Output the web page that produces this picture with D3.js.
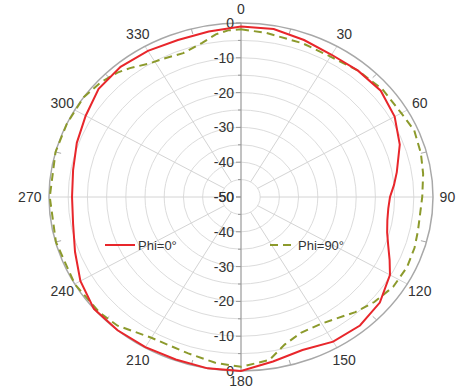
<!DOCTYPE html>
<html>
<head>
<meta charset="utf-8">
<script src="https://cdn.jsdelivr.net/npm/d3@7"></script>
<style>
  body { margin: 0; background: #fff; }
  text { font-family: 'Liberation Sans', Arial, sans-serif; fill: #333; }
</style>
</head>
<body>
<svg width="463" height="390"></svg>
<script>
// Phi=0° cut (angle in degrees, gain in dB)
const phi0Angles = [0, 10, 20, 30, 40, 50, 60, 70, 80, 85, 90, 95, 100, 105, 110, 115, 120, 130, 140, 150, 160, 170, 180,
  190, 200, 210, 220, 230, 240, 250, 260, 270, 280, 290, 300, 310, 320, 330, 340, 350]
const phi0Gain = [-1.0, -1.0, -2.0, -2.8, -2.6, -2.5, -3.8, -6.0, -8.8, -10.0, -11.2, -11.5, -11.3, -10.6, -9.2, -7.3, -5.2, -2.8, -1.8, -2.0, -3.2, -2.0, 0,
  0, -0.3, -0.2, 0, 0, -1.7, -4.0, -5.6, -6.0, -5.6, -4.5, -3.3, -1.6, -1.2, -1.5, -2.0, -1.7]

// Phi=90° cut
const phi90Angles = [0, 8, 20, 30, 40, 50, 60, 67, 75, 82, 90, 102, 108, 115, 123, 131, 138, 150, 158, 165, 171, 180,
  188, 197, 210, 221, 228, 240, 255, 270, 285, 295, 305, 312, 318, 322, 328, 333, 340, 347, 352, 356]
const phi90Gain = [-1.8, -2.4, -3.0, -3.4, -2.6, -1.9, -1.8, -1.0, -1.5, -2.1, -2.8, -2.9, -2.5, -2.3, -2.7, -4.0, -5.5, -8.0, -8.0, -6.1, -2.6, -1.2,
  -1.9, -3.0, -3.3, -1.0, -0.4, 0, -0.1, -0.2, 0, 0, 0, -0.8, -1.9, -3.0, -4.8, -5.4, -6.0, -4.6, -2.8, -2.0]

const radialTicks = [-50, -40, -30, -20, -10, 0]
const angleTicks = [0, 30, 60, 90, 120, 150, 180, 210, 240, 270, 300, 330]

const svg = d3.select('svg')
const cx = 241, cy = 197, rx = 192, ry = 174
const r = d3.scaleLinear().domain([-50, 0]).range([0, 1])

const px = (a, f) => cx + rx * f * Math.sin(a * Math.PI / 180)
const py = (a, f) => cy - ry * f * Math.cos(a * Math.PI / 180)

const grid = svg.append('g')

// rings every 5 dB
grid.selectAll('ellipse.ring')
  .data(d3.range(-45, 0, 5))
  .enter().append('ellipse')
  .attr('cx', cx).attr('cy', cy)
  .attr('rx', (d) => rx * r(d)).attr('ry', (d) => ry * r(d))
  .style('fill', 'none').style('stroke', '#dcdcdc').style('stroke-width', 1)

// spokes
grid.selectAll('line.spoke')
  .data(d3.range(0, 360, 30).filter((a) => a % 180 !== 0))
  .enter().append('line')
  .attr('x1', (a) => px(a, r(-45))).attr('y1', (a) => py(a, r(-45)))
  .attr('x2', (a) => px(a, 1)).attr('y2', (a) => py(a, 1))
  .style('stroke', '#d4d4d4').style('stroke-width', 1)

// small ticks on outer ring
grid.selectAll('line.otick')
  .data(d3.range(15, 360, 30))
  .enter().append('line')
  .attr('x1', (a) => px(a, 0.97)).attr('y1', (a) => py(a, 0.97))
  .attr('x2', (a) => px(a, 1)).attr('y2', (a) => py(a, 1))
  .style('stroke', '#aaa').style('stroke-width', 1)

// outer ring
grid.append('ellipse')
  .attr('cx', cx).attr('cy', cy).attr('rx', rx).attr('ry', ry)
  .style('fill', 'none').style('stroke', '#a8a8a8').style('stroke-width', 1.5)

// vertical radial axis
grid.append('line')
  .attr('x1', cx).attr('x2', cx).attr('y1', cy - ry).attr('y2', cy + ry)
  .style('stroke', '#999').style('stroke-width', 1.2)

const axisY = d3.scaleLinear().domain([-50, 0]).range([cy, cy - ry])
const axisYb = d3.scaleLinear().domain([-50, 0]).range([cy, cy + ry])
;[axisY, axisYb].forEach((s) => {
  grid.selectAll(null)
    .data(d3.range(-50, 1, 5))
    .enter().append('line')
    .attr('x1', (d) => cx - (d % 10 === 0 ? 5 : 3)).attr('x2', cx)
    .attr('y1', (d) => s(d)).attr('y2', (d) => s(d))
    .style('stroke', '#999')
  svg.selectAll(null)
    .data(radialTicks)
    .enter().append('text')
    .attr('x', cx - 7).attr('y', (d) => s(d))
    .attr('dy', '0.35em')
    .style('text-anchor', 'end')
    .style('font-size', '14px')
    .text((d) => d)
})

// angle labels
svg.selectAll('text.ang')
  .data(angleTicks)
  .enter().append('text')
  .attr('x', (a) => px(a, a === 270 ? 1.1 : 1.075))
  .attr('y', (a) => py(a, a === 180 ? 1.06 : 1.08))
  .attr('dy', '0.35em')
  .style('text-anchor', 'middle')
  .style('font-size', '14px')
  .text((a) => a)

const line = (angles) => d3.line()
  .x((d, i) => px(angles[i], r(d)))
  .y((d, i) => py(angles[i], r(d)))
  .curve(d3.curveLinearClosed)

svg.append('path')
  .attr('d', line(phi90Angles)(phi90Gain))
  .style('fill', 'none').style('stroke', '#8c9a2c').style('stroke-width', 2)
  .style('stroke-dasharray', '8,5')

svg.append('path')
  .attr('d', line(phi0Angles)(phi0Gain))
  .style('fill', 'none').style('stroke', '#e8262b').style('stroke-width', 2)

// legend
const legend = svg.append('g')
legend.append('line').attr('x1', 105).attr('x2', 135).attr('y1', 245).attr('y2', 245)
  .style('stroke', '#e8262b').style('stroke-width', 2)
legend.append('text').attr('x', 138).attr('y', 245).attr('dy', '0.35em')
  .style('font-size', '13px').text('Phi=0°')
legend.append('line').attr('x1', 270).attr('x2', 294).attr('y1', 245).attr('y2', 245)
  .style('stroke', '#8c9a2c').style('stroke-width', 2).style('stroke-dasharray', '8,5')
legend.append('text').attr('x', 298).attr('y', 245).attr('dy', '0.35em')
  .style('font-size', '13px').text('Phi=90°')
</script>
</body>
</html>
